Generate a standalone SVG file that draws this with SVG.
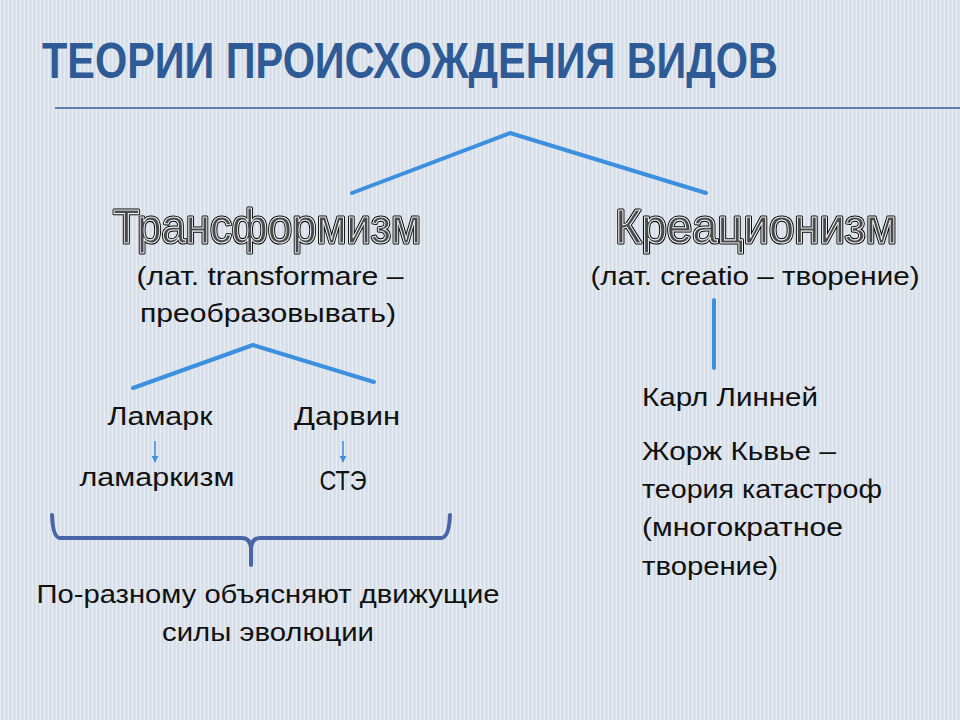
<svg xmlns="http://www.w3.org/2000/svg" width="960" height="720" viewBox="0 0 960 720">
<defs>
<pattern id="stripes" width="4" height="8" patternUnits="userSpaceOnUse">
<rect width="4" height="8" fill="#dbe3eb"/>
<rect x="0" width="1" height="8" fill="#e6ecf2"/>
<rect x="2" width="1" height="8" fill="#d3dce6"/>
</pattern>
<marker id="arr" viewBox="0 0 10 10" refX="9" refY="5" markerWidth="7" markerHeight="7" markerUnits="userSpaceOnUse" orient="auto">
<path d="M0,0 L10,5 L0,10 z" fill="#3d8fe0"/>
</marker>
<filter id="gray" x="-5%" y="-20%" width="110%" height="140%">
<feOffset dx="0" dy="0"/>
</filter>
</defs>
<style>
.t{font-family:"Liberation Sans","DejaVu Sans",Arial,sans-serif;font-size:26px;fill:#111;}
.c{text-anchor:middle;}
.h{font-family:"Liberation Sans",Arial,sans-serif;font-size:49px;text-anchor:middle;}
.ho{fill:none;stroke:#000;stroke-width:3.2;stroke-linejoin:round;}
.hi{fill:#4a4a4a;stroke:#eef1f4;stroke-width:1.1;}
.blue{stroke:#3d8fe0;stroke-width:4;fill:none;stroke-linecap:round;stroke-linejoin:round;}
.small{stroke:#3d8fe0;stroke-width:1.5;fill:none;}
</style>
<rect width="960" height="720" fill="url(#stripes)"/>
<g id="title">
<text x="42" y="78" font-family="'Liberation Sans Narrow','Liberation Sans',Arial,sans-serif" font-weight="bold" font-size="50" fill="#2e5a96" textLength="736" lengthAdjust="spacingAndGlyphs">ТЕОРИИ ПРОИСХОЖДЕНИЯ ВИДОВ</text>
<line x1="55" y1="108" x2="960" y2="108" stroke="#5f7fb0" stroke-width="2"/>
</g>
<g id="connectors">
<polyline class="blue" points="352,193 510,133 706,193"/>
<polyline class="blue" points="133,388 253,345 374,382"/>
<line class="blue" x1="714" y1="300" x2="714" y2="368"/>
<line class="small" x1="155" y1="441" x2="155" y2="462" marker-end="url(#arr)"/>
<line class="small" x1="343" y1="441" x2="343" y2="462" marker-end="url(#arr)"/>
<path d="M52,515 Q53,538 60,538 L242,538 Q250,538 251,548 L251,565 M251,548 Q252,538 260,538 L441,538 Q449,538 450,515" fill="none" stroke="#4a64a8" stroke-width="4" stroke-linecap="round" stroke-linejoin="round"/>
</g>
<g id="transformism">
<g filter="url(#gray)">
<text class="h ho" x="267" y="243" textLength="308" lengthAdjust="spacingAndGlyphs">Трансформизм</text>
<text class="h hi" x="267" y="243" textLength="308" lengthAdjust="spacingAndGlyphs">Трансформизм</text>
</g>
<text class="t c" x="270" y="285" textLength="267" lengthAdjust="spacingAndGlyphs">(лат. transformare –</text>
<text class="t c" x="268" y="322" textLength="256" lengthAdjust="spacingAndGlyphs">преобразовывать)</text>
</g>
<g id="creationism">
<g filter="url(#gray)">
<text class="h ho" x="756" y="243" textLength="282" lengthAdjust="spacingAndGlyphs">Креационизм</text>
<text class="h hi" x="756" y="243" textLength="282" lengthAdjust="spacingAndGlyphs">Креационизм</text>
</g>
<text class="t c" x="755" y="285" textLength="329" lengthAdjust="spacingAndGlyphs">(лат. creatio – творение)</text>
</g>
<g id="lamarck">
<text class="t c" x="160" y="425" textLength="105" lengthAdjust="spacingAndGlyphs">Ламарк</text>
</g>
<g id="darwin">
<text class="t c" x="347" y="425" textLength="106" lengthAdjust="spacingAndGlyphs">Дарвин</text>
</g>
<g id="lamarckism">
<text class="t c" x="157" y="486" textLength="155" lengthAdjust="spacingAndGlyphs">ламаркизм</text>
</g>
<g id="ste">
<text class="t c" x="343" y="490" style="font-size:28px" textLength="47" lengthAdjust="spacingAndGlyphs">СТЭ</text>
</g>
<g id="forces">
<text class="t c" x="268" y="603" textLength="463" lengthAdjust="spacingAndGlyphs">По-разному объясняют движущие</text>
<text class="t c" x="268" y="641" textLength="212" lengthAdjust="spacingAndGlyphs">силы эволюции</text>
</g>
<g id="linnaeus">
<text class="t" x="642" y="406" textLength="176" lengthAdjust="spacingAndGlyphs">Карл Линней</text>
</g>
<g id="cuvier">
<text class="t" x="642" y="460" textLength="194" lengthAdjust="spacingAndGlyphs">Жорж Кьвье –</text>
<text class="t" x="642" y="498" textLength="240" lengthAdjust="spacingAndGlyphs">теория катастроф</text>
<text class="t" x="642" y="536" textLength="201" lengthAdjust="spacingAndGlyphs">(многократное</text>
<text class="t" x="642" y="575" textLength="136" lengthAdjust="spacingAndGlyphs">творение)</text>
</g>
</svg>
